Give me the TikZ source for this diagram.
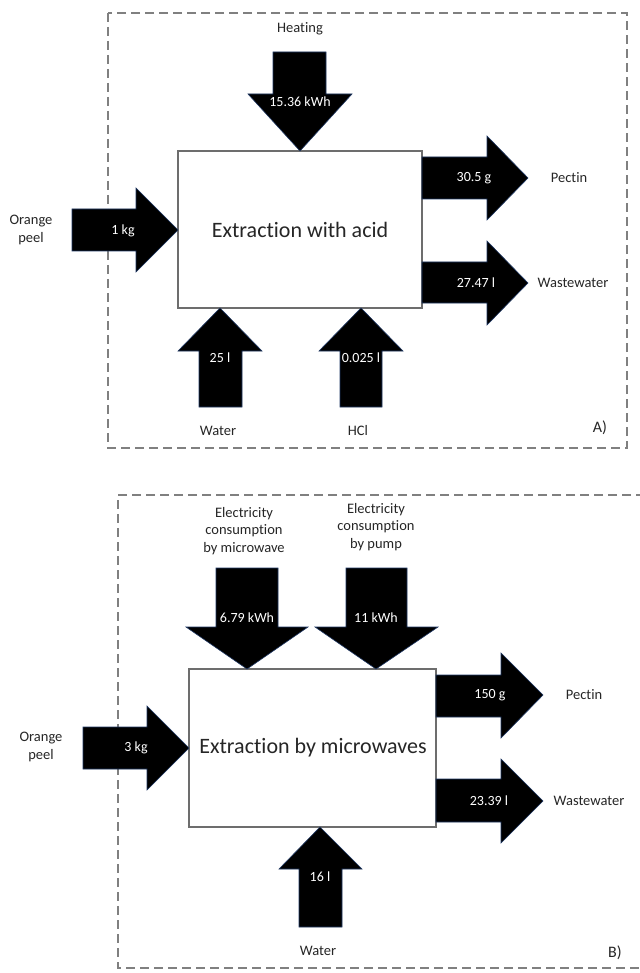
\documentclass[tikz,border=0pt]{standalone}
\usepackage{fontspec}
\setmainfont{Carlito}[Ligatures={NoCommon}]
\definecolor{txt}{HTML}{262626}
\definecolor{frame}{HTML}{808080}
\definecolor{edge}{HTML}{1F3864}
\begin{document}
\begin{tikzpicture}[x=1pt,y=-1pt,
  blockarrow/.style={fill=black,draw=edge,line width=0.6pt},
  procbox/.style={draw=frame!85!black,fill=white,line width=1.1pt},
  outerframe/.style={draw=frame,line width=1.1pt,dash pattern=on 9pt off 5pt},
  lbl/.style={text=txt,font=\fontsize{14.5}{17.5}\selectfont,align=center,inner sep=0pt},
  val/.style={text=white,font=\fontsize{14}{16}\selectfont,inner sep=0pt},
  big/.style={text=txt,font=\fontsize{22}{26}\selectfont,inner sep=0pt}]
\useasboundingbox[fill=white] (0,0) rectangle (639,973);

% ---------------- Panel A ----------------
\draw[outerframe] (108,13) rectangle (627,448);
\draw[procbox] (178,151) rectangle (422,308);
\node[big] (pa) at (300,230) {Extraction with acid};

% heating (down)
\fill[blockarrow] (273,52)--(326,52)--(326,94)--(352,94)--(300,151)--(248,94)--(273,94)--cycle;
\node[lbl] (heat) at (300,29) {Heating};
\node[val] (heatv) at (300,102) {15.36 kWh};

% orange peel (right)
\fill[blockarrow] (72,209)--(136,209)--(136,188)--(178,230)--(136,272)--(136,251)--(72,251)--cycle;
\node[lbl] (opa) at (31,230) {Orange\\peel};
\node[val] (opav) at (123,231) {1 kg};

% pectin (right)
\fill[blockarrow] (422,157)--(487,157)--(487,136)--(528,178)--(487,220)--(487,199)--(422,199)--cycle;
\node[val] (pectav) at (474,178) {30.5 g};
\node[lbl] (pecta) at (569,178) {Pectin};

% wastewater (right)
\fill[blockarrow] (422,262)--(487,262)--(487,241)--(528,283)--(487,325)--(487,303)--(422,303)--cycle;
\node[val] (wwav) at (476,283) {27.47 l};
\node[lbl] (wwa) at (573,283) {Wastewater};

% water (up)
\fill[blockarrow] (220,308)--(262,351)--(242,351)--(242,407)--(199,407)--(199,351)--(178,351)--cycle;
\node[val] (watav) at (220,358) {25 l};
\node[lbl] (wata) at (218,431) {Water};

% HCl (up)
\fill[blockarrow] (361,308)--(403,351)--(382,351)--(382,407)--(340,407)--(340,351)--(319,351)--cycle;
\node[val] (hclv) at (361,358) {0.025 l};
\node[lbl] (hcl) at (358,431) {HCl};

\node[lbl,font=\fontsize{16}{18}\selectfont] (la) at (600,428) {A)};

% ---------------- Panel B ----------------
\draw[outerframe] (645,495)--(118,495)--(118,968)--(645,968);
\draw[procbox] (189,669) rectangle (436,827);
\node[big] (pb) at (313,748) {Extraction by microwaves};

% microwave electricity (down)
\fill[blockarrow] (216,568)--(278,568)--(278,627)--(308,627)--(247,669)--(186,627)--(216,627)--cycle;
\node[lbl] (emw) at (244,531) {Electricity\\consumption\\by microwave};
\node[val] (emwv) at (247,618) {6.79 kWh};

% pump electricity (down)
\fill[blockarrow] (346,568)--(407,568)--(407,627)--(438,627)--(376,669)--(315,627)--(346,627)--cycle;
\node[lbl] (epu) at (376,527) {Electricity\\consumption\\by pump};
\node[val] (epuv) at (376,618) {11 kWh};

% orange peel (right)
\fill[blockarrow] (83,727)--(147,727)--(147,706)--(189,748)--(147,790)--(147,769)--(83,769)--cycle;
\node[lbl] (opb) at (41,747) {Orange\\peel};
\node[val] (opbv) at (136,748) {3 kg};

% pectin (right)
\fill[blockarrow] (436,675)--(501,675)--(501,653)--(543,695)--(501,738)--(501,717)--(436,717)--cycle;
\node[val] (pectbv) at (490,695) {150 g};
\node[lbl] (pectb) at (584,695) {Pectin};

% wastewater (right)
\fill[blockarrow] (436,779)--(501,779)--(501,759)--(543,801)--(501,843)--(501,822)--(436,822)--cycle;
\node[val] (wwbv) at (489,801) {23.39 l};
\node[lbl] (wwb) at (589,801) {Wastewater};

% water (up)
\fill[blockarrow] (320,827)--(362,869)--(342,869)--(342,927)--(299,927)--(299,869)--(279,869)--cycle;
\node[val] (watbv) at (320,877) {16 l};
\node[lbl] (watb) at (318,951) {Water};

\node[lbl,font=\fontsize{16}{18}\selectfont] (lb) at (615,953) {B)};
\end{tikzpicture}
\end{document}
